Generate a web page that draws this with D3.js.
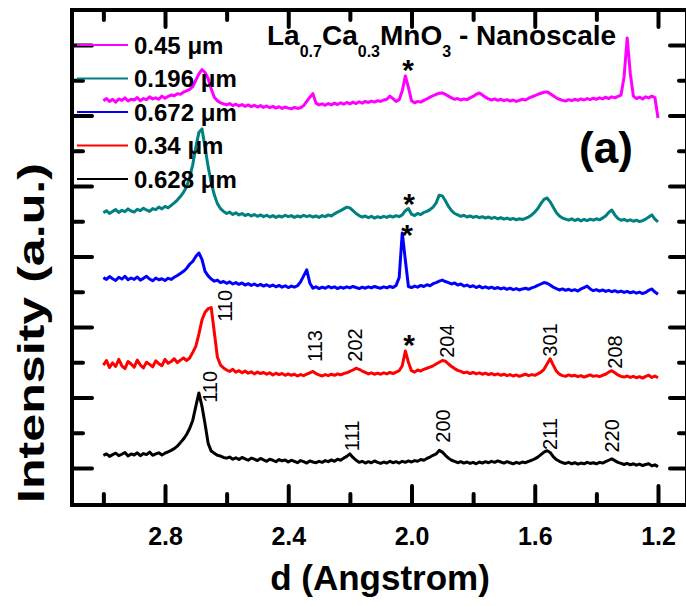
<!DOCTYPE html>
<html>
<head>
<meta charset="utf-8">
<script src="https://cdn.jsdelivr.net/npm/d3@7"></script>
<style>
  body { margin: 0; background: #fff; }
  svg { display: block; font-family: "Liberation Sans", Arial, sans-serif; }
</style>
</head>
<body>
<svg id="chart" width="686" height="606"></svg>
<script>
// sampling grid, d in Angstrom, 3.00 -> 1.20 (0.01 step)
const dGrid = d3.range(181).map(i => +(3.0 - i * 0.01).toFixed(2));

// intensities (a.u., curves already stacked)
const int0628 = [
  0.36,0.40,0.33,0.38,0.42,0.35,0.39,0.44,0.34,0.40,
  0.37,0.43,0.35,0.41,0.38,0.45,0.36,0.40,0.43,0.37,
  0.42,0.46,0.50,0.55,0.62,0.72,0.82,0.95,1.12,1.35,
  1.75,2.13,1.75,1.25,0.70,0.48,0.42,0.36,0.34,0.30,
  0.28,0.31,0.25,0.29,0.24,0.30,0.26,0.22,0.28,0.25,
  0.21,0.27,0.23,0.19,0.25,0.22,0.18,0.24,0.20,0.23,
  0.17,0.22,0.19,0.15,0.21,0.18,0.14,0.20,0.17,0.15,
  0.19,0.16,0.21,0.18,0.23,0.19,0.25,0.22,0.28,0.33,
  0.40,0.30,0.22,0.16,0.19,0.14,0.18,0.15,0.20,0.16,
  0.13,0.17,0.14,0.19,0.15,0.18,0.14,0.19,0.16,0.20,
  0.17,0.21,0.19,0.24,0.22,0.27,0.31,0.36,0.40,0.50,
  0.45,0.36,0.28,0.22,0.19,0.15,0.18,0.14,0.17,0.13,
  0.16,0.12,0.17,0.14,0.18,0.15,0.19,0.16,0.20,0.17,
  0.14,0.18,0.15,0.12,0.16,0.13,0.17,0.15,0.19,0.22,
  0.26,0.31,0.38,0.45,0.49,0.44,0.32,0.24,0.19,0.15,
  0.13,0.16,0.12,0.15,0.11,0.14,0.12,0.16,0.13,0.15,
  0.12,0.16,0.14,0.18,0.22,0.26,0.21,0.16,0.13,0.10,
  0.13,0.09,0.12,0.08,0.11,0.07,0.10,0.12,0.06,0.09,0.04
];
const int034 = [
  2.92,3.05,2.85,2.98,2.88,3.08,2.90,2.82,3.02,2.95,
  2.86,3.06,2.92,2.84,3.00,2.94,2.87,3.04,2.96,2.90,
  3.08,2.97,3.02,3.10,2.99,3.06,3.12,3.05,3.12,3.28,
  3.45,3.80,4.20,4.42,4.52,4.55,3.85,3.15,2.92,2.84,
  2.78,2.74,2.80,2.72,2.76,2.70,2.75,2.69,2.73,2.67,
  2.72,2.68,2.71,2.66,2.70,2.64,2.69,2.65,2.68,2.63,
  2.67,2.63,2.66,2.61,2.65,2.62,2.66,2.70,2.74,2.68,
  2.64,2.61,2.65,2.62,2.66,2.63,2.67,2.64,2.68,2.70,
  2.74,2.78,2.83,2.80,2.75,2.71,2.67,2.70,2.66,2.69,
  2.66,2.70,2.67,2.71,2.68,2.72,2.76,2.90,3.32,3.00,
  2.76,2.72,2.78,2.75,2.80,2.83,2.86,2.90,2.95,3.00,
  3.05,3.03,2.95,2.88,2.82,2.77,2.74,2.70,2.72,2.68,
  2.71,2.67,2.70,2.66,2.69,2.65,2.68,2.64,2.67,2.63,
  2.66,2.62,2.65,2.61,2.64,2.60,2.63,2.66,2.62,2.65,
  2.63,2.67,2.72,2.80,2.95,3.10,2.92,2.75,2.66,2.62,
  2.60,2.64,2.61,2.63,2.59,2.62,2.58,2.61,2.64,2.60,
  2.62,2.59,2.63,2.66,2.72,2.76,2.70,2.64,2.60,2.58,
  2.61,2.57,2.60,2.56,2.59,2.55,2.60,2.63,2.57,2.61,2.56
];
const int0672 = [
  5.40,5.35,5.43,5.37,5.32,5.41,5.36,5.44,5.34,5.39,
  5.35,5.42,5.33,5.38,5.44,5.36,5.31,5.39,5.34,5.37,
  5.32,5.38,5.35,5.41,5.46,5.52,5.58,5.66,5.78,5.86,
  6.00,6.10,5.92,5.58,5.45,5.36,5.30,5.33,5.26,5.29,
  5.24,5.28,5.22,5.26,5.21,5.25,5.19,5.23,5.18,5.22,
  5.17,5.21,5.16,5.20,5.15,5.19,5.14,5.18,5.13,5.17,
  5.12,5.16,5.13,5.17,5.28,5.45,5.62,5.25,5.10,5.14,
  5.09,5.13,5.10,5.15,5.11,5.14,5.09,5.13,5.10,5.14,
  5.11,5.15,5.12,5.09,5.13,5.10,5.14,5.11,5.15,5.12,
  5.10,5.14,5.11,5.15,5.12,5.18,5.40,6.67,5.90,5.15,
  5.12,5.16,5.13,5.18,5.15,5.20,5.17,5.23,5.26,5.30,
  5.33,5.29,5.26,5.22,5.25,5.19,5.22,5.16,5.19,5.14,
  5.17,5.12,5.16,5.11,5.14,5.10,5.13,5.09,5.12,5.08,
  5.11,5.07,5.10,5.06,5.09,5.05,5.08,5.10,5.07,5.11,
  5.14,5.18,5.22,5.26,5.24,5.19,5.13,5.09,5.05,5.08,
  5.04,5.07,5.03,5.06,5.02,5.08,5.12,5.16,5.08,5.03,
  5.06,5.02,5.05,5.01,5.04,5.00,5.03,4.99,5.02,4.98,
  5.01,4.97,5.00,4.96,4.99,4.95,4.98,5.04,5.08,4.99,4.93
];
const int0196 = [
  7.24,7.30,7.22,7.28,7.33,7.25,7.31,7.27,7.35,7.29,
  7.26,7.34,7.30,7.37,7.32,7.28,7.36,7.33,7.40,7.35,
  7.42,7.38,7.45,7.52,7.60,7.70,7.82,7.98,8.25,8.60,
  9.10,9.52,9.62,9.10,8.55,8.10,7.75,7.50,7.36,7.28,
  7.22,7.26,7.19,7.24,7.18,7.22,7.16,7.20,7.15,7.19,
  7.14,7.18,7.13,7.17,7.12,7.16,7.11,7.15,7.12,7.17,
  7.13,7.16,7.11,7.15,7.12,7.17,7.13,7.16,7.12,7.15,
  7.11,7.16,7.13,7.18,7.15,7.21,7.26,7.30,7.35,7.40,
  7.38,7.30,7.22,7.16,7.12,7.15,7.10,7.14,7.09,7.13,
  7.10,7.14,7.11,7.15,7.12,7.16,7.13,7.18,7.30,7.36,
  7.20,7.16,7.22,7.19,7.25,7.28,7.33,7.40,7.52,7.74,
  7.72,7.58,7.42,7.30,7.22,7.18,7.14,7.17,7.12,7.15,
  7.11,7.14,7.10,7.13,7.09,7.12,7.08,7.11,7.07,7.10,
  7.06,7.09,7.05,7.08,7.04,7.07,7.05,7.08,7.12,7.18,
  7.26,7.36,7.50,7.62,7.66,7.55,7.40,7.25,7.15,7.09,
  7.06,7.03,7.07,7.02,7.06,7.01,7.05,7.02,7.06,7.03,
  7.07,7.04,7.09,7.15,7.25,7.32,7.18,7.08,7.03,7.05,
  7.01,7.04,7.00,7.03,6.99,7.02,7.06,7.12,7.18,7.06,6.98
];
const int045 = [
  10.42,10.48,10.40,10.46,10.38,10.47,10.43,10.50,10.41,10.46,
  10.44,10.51,10.42,10.48,10.45,10.53,10.47,10.50,10.46,10.55,
  10.49,10.54,10.58,10.56,10.62,10.60,10.66,10.70,10.74,10.82,
  11.00,11.18,11.30,11.22,11.05,10.75,10.52,10.42,10.36,10.33,
  10.30,10.34,10.28,10.32,10.27,10.31,10.26,10.30,10.25,10.29,
  10.24,10.28,10.23,10.27,10.22,10.26,10.21,10.25,10.20,10.24,
  10.21,10.19,10.23,10.20,10.22,10.28,10.40,10.52,10.62,10.35,
  10.30,10.33,10.29,10.34,10.30,10.35,10.31,10.36,10.32,10.37,
  10.33,10.38,10.34,10.39,10.35,10.40,10.37,10.41,10.38,10.42,
  10.40,10.44,10.46,10.55,10.48,10.40,10.45,10.70,11.12,10.80,
  10.42,10.36,10.40,10.38,10.43,10.47,10.52,10.56,10.60,10.63,
  10.64,10.60,10.55,10.50,10.46,10.48,10.44,10.47,10.45,10.50,
  10.54,10.60,10.64,10.58,10.52,10.47,10.44,10.47,10.43,10.46,
  10.42,10.45,10.41,10.44,10.40,10.43,10.46,10.44,10.49,10.53,
  10.56,10.60,10.63,10.66,10.67,10.62,10.56,10.50,10.46,10.43,
  10.41,10.45,10.42,10.46,10.43,10.47,10.44,10.48,10.45,10.49,
  10.46,10.50,10.47,10.52,10.48,10.53,10.50,10.54,10.58,11.10,
  12.20,11.20,10.55,10.48,10.52,10.47,10.53,10.50,10.55,10.51,9.93
];

const legendLabels = ["0.45 μm", "0.196 μm", "0.672 μm", "0.34 μm", "0.628 μm"];
const seriesColors = ["#ff00ff", "#008080", "#0000ff", "#ff0000", "#000000"];
const seriesValues = [int045, int0196, int0672, int034, int0628];

const xMajor = [2.8, 2.4, 2.0, 1.6, 1.2];
const xMinor = [3.0, 2.6, 2.2, 1.8, 1.4];
const yMajor = [0, 2, 4, 6, 8, 10, 12];
const yMinor = [1, 3, 5, 7, 9, 11];

// peak labels: text, d, intensity (where the label sits)
const hklText = ["110", "113", "202", "204", "301", "208", "110", "111", "200", "211", "220"];
const hklD    = [2.605, 2.313, 2.183, 1.884, 1.550, 1.339, 2.654, 2.193, 1.897, 1.550, 1.349];
const hklI    = [4.60, 3.46, 3.49, 3.60, 3.63, 3.29, 2.30, 0.91, 1.19, 0.96, 0.91];
// impurity marks (*)
const starD = [2.011, 2.008, 2.014, 2.008];
const starI = [11.49, 7.69, 6.81, 3.69];

const svg = d3.select("#chart");
const L = 72, R = 687, T = 10, B = 505;

const x = d3.scaleLinear().domain([2.8, 1.2]).range([165, 658]);
const y = d3.scaleLinear().domain([0, 12]).range([468, 45]);

// curves
const line = d3.line()
  .x((v, i) => x(dGrid[i]))
  .y(v => y(v));

svg.append("g").selectAll("path")
  .data(seriesValues)
  .join("path")
  .attr("d", line)
  .attr("fill", "none")
  .attr("stroke", (d, i) => seriesColors[i])
  .attr("stroke-width", 3)
  .attr("stroke-linejoin", "round");

// axes, ticks inside
function styleAxis(g) {
  g.select(".domain").remove();
  g.selectAll(".tick line").attr("stroke", "#000").attr("stroke-width", 4).attr("stroke-linecap", "round");
  g.selectAll(".tick text").attr("fill", "#000").attr("font-size", 25).attr("font-weight", "bold")
    .attr("font-family", "Liberation Sans, Arial, sans-serif");
}

svg.append("g").attr("transform", `translate(0,${B})`)
  .call(d3.axisBottom(x).tickValues(xMajor).tickSize(-19).tickPadding(22).tickFormat(d3.format(".1f")))
  .call(styleAxis);
svg.append("g").attr("transform", `translate(0,${B})`)
  .call(d3.axisBottom(x).tickValues(xMinor).tickSize(-11).tickFormat(""))
  .call(styleAxis);
svg.append("g").attr("transform", `translate(0,${T})`)
  .call(d3.axisTop(x).tickValues(xMajor).tickSize(-17).tickFormat(""))
  .call(styleAxis);
svg.append("g").attr("transform", `translate(0,${T})`)
  .call(d3.axisTop(x).tickValues(xMinor).tickSize(-10).tickFormat(""))
  .call(styleAxis);
svg.append("g").attr("transform", `translate(${L},0)`)
  .call(d3.axisLeft(y).tickValues(yMajor).tickSize(-20).tickFormat(""))
  .call(styleAxis);
svg.append("g").attr("transform", `translate(${L},0)`)
  .call(d3.axisLeft(y).tickValues(yMinor).tickSize(-11).tickFormat(""))
  .call(styleAxis);
svg.append("g").attr("transform", `translate(${R},0)`)
  .call(d3.axisRight(y).tickValues(yMajor).tickSize(-17).tickFormat(""))
  .call(styleAxis);
svg.append("g").attr("transform", `translate(${R},0)`)
  .call(d3.axisRight(y).tickValues(yMinor).tickSize(-8).tickFormat(""))
  .call(styleAxis);

// frame
svg.append("rect")
  .attr("x", L).attr("y", T).attr("width", R - L).attr("height", B - T)
  .attr("fill", "none").attr("stroke", "#000").attr("stroke-width", 4);

// axis titles
svg.append("text")
  .attr("x", 380).attr("y", 590)
  .attr("text-anchor", "middle").attr("font-size", 35).attr("font-weight", "bold")
  .text("d (Angstrom)");
svg.append("text")
  .attr("transform", "translate(44,333) rotate(-90)")
  .attr("text-anchor", "middle").attr("font-size", 37).attr("font-weight", "bold")
  .attr("textLength", 340).attr("lengthAdjust", "spacingAndGlyphs")
  .text("Intensity (a.u.)");

// legend
const leg = svg.append("g");
legendLabels.forEach((lab, i) => {
  const ly = 45 + i * 33.5;
  leg.append("line").attr("x1", 77).attr("x2", 128).attr("y1", ly).attr("y2", ly)
    .attr("stroke", seriesColors[i]).attr("stroke-width", 2);
  leg.append("text").attr("x", 134).attr("y", ly).attr("dy", "0.36em")
    .attr("font-size", 24).attr("font-weight", "bold").text(lab);
});

// title
const title = svg.append("text").attr("x", 267).attr("y", 45)
  .attr("font-size", 28).attr("font-weight", "bold");
title.append("tspan").text("La");
title.append("tspan").attr("font-size", 16).attr("dy", 12).text("0.7");
title.append("tspan").attr("dy", -12).text("Ca");
title.append("tspan").attr("font-size", 16).attr("dy", 12).text("0.3");
title.append("tspan").attr("dy", -12).text("MnO");
title.append("tspan").attr("font-size", 16).attr("dy", 12).text("3");
title.append("tspan").attr("dy", -12).text(" - Nanoscale");

svg.append("text").attr("x", 606).attr("y", 163)
  .attr("text-anchor", "middle").attr("font-size", 44).attr("font-weight", "bold")
  .text("(a)");

// peak indices
svg.append("g").selectAll("text")
  .data(hklText)
  .join("text")
  .attr("transform", (t, i) => `translate(${x(hklD[i])},${y(hklI[i])}) rotate(-90)`)
  .attr("text-anchor", "middle").attr("dy", "0.36em")
  .attr("font-size", 20)
  .text(t => t);

svg.append("g").selectAll("text")
  .data(starD)
  .join("text")
  .attr("x", d => x(d))
  .attr("y", (d, i) => y(starI[i]) + 17)
  .attr("text-anchor", "middle")
  .attr("font-size", 30).attr("font-weight", "bold")
  .text("*");
</script>
</body>
</html>
